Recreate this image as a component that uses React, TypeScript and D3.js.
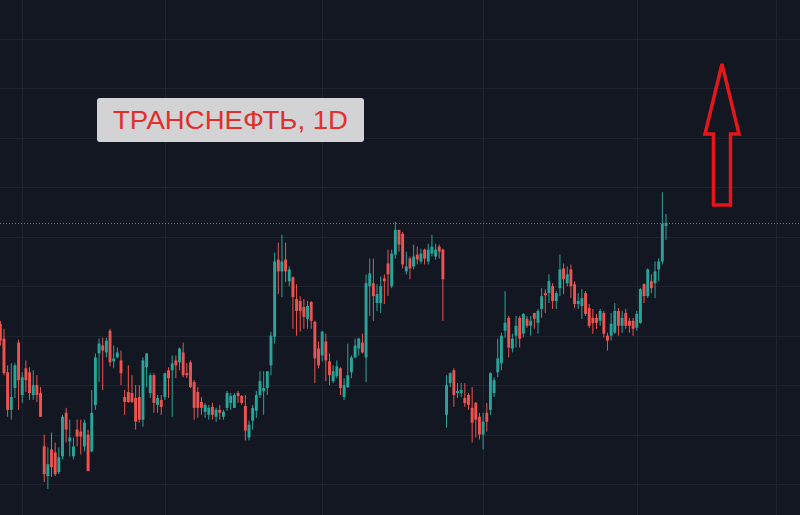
import React from 'react';
import * as d3 from 'd3';

// daily candles, [open, high, low, close]
const candles: [number, number, number, number][] = [
  [1412, 1415, 1390, 1395], [1397, 1407, 1360, 1362], [1363, 1370, 1318, 1325], [1325, 1372, 1315, 1338],
  [1347, 1372, 1337, 1370], [1393, 1396, 1325, 1355], [1340, 1363, 1332, 1358], [1367, 1375, 1343, 1355],
  [1363, 1368, 1335, 1342], [1340, 1365, 1335, 1350], [1350, 1360, 1333, 1340], [1342, 1348, 1318, 1318],
  [1288, 1300, 1252, 1260], [1258, 1287, 1245, 1270], [1285, 1302, 1257, 1267], [1282, 1292, 1258, 1260],
  [1262, 1287, 1260, 1277], [1278, 1320, 1275, 1318], [1322, 1327, 1292, 1305], [1293, 1315, 1278, 1297],
  [1278, 1297, 1275, 1288], [1305, 1315, 1288, 1298], [1303, 1315, 1280, 1298], [1288, 1315, 1283, 1312],
  [1300, 1305, 1263, 1263], [1283, 1345, 1282, 1322], [1330, 1382, 1325, 1378], [1382, 1397, 1353, 1392],
  [1390, 1398, 1345, 1385], [1383, 1398, 1378, 1395], [1405, 1407, 1369, 1373], [1374, 1390, 1367, 1377],
  [1378, 1388, 1377, 1383], [1375, 1385, 1350, 1362], [1338, 1345, 1320, 1333], [1343, 1370, 1332, 1333],
  [1342, 1360, 1332, 1333], [1337, 1350, 1305, 1313], [1338, 1350, 1312, 1315], [1315, 1378, 1308, 1375],
  [1368, 1382, 1348, 1382], [1342, 1362, 1337, 1360], [1360, 1362, 1322, 1332], [1330, 1340, 1322, 1337],
  [1335, 1340, 1320, 1328], [1338, 1362, 1335, 1362], [1365, 1368, 1337, 1357], [1365, 1380, 1318, 1372],
  [1375, 1380, 1357, 1370], [1373, 1388, 1365, 1387], [1383, 1393, 1358, 1360], [1362, 1372, 1357, 1360],
  [1373, 1375, 1347, 1348], [1353, 1355, 1315, 1327], [1343, 1348, 1317, 1327], [1333, 1338, 1320, 1327],
  [1323, 1332, 1317, 1330], [1320, 1330, 1315, 1327], [1328, 1332, 1315, 1320], [1318, 1327, 1313, 1325],
  [1325, 1330, 1315, 1322], [1318, 1325, 1315, 1323], [1327, 1344, 1324, 1342], [1332, 1342, 1325, 1339],
  [1327, 1342, 1327, 1340], [1342, 1344, 1332, 1339], [1339, 1340, 1330, 1332], [1329, 1340, 1294, 1304],
  [1297, 1314, 1294, 1310], [1314, 1330, 1305, 1327], [1324, 1344, 1317, 1340], [1340, 1364, 1337, 1354],
  [1344, 1364, 1320, 1347], [1347, 1364, 1340, 1364], [1370, 1404, 1360, 1400], [1399, 1484, 1392, 1475],
  [1477, 1494, 1442, 1465], [1465, 1502, 1439, 1475], [1477, 1494, 1454, 1465], [1455, 1470, 1450, 1467],
  [1459, 1460, 1407, 1439], [1437, 1452, 1400, 1425], [1435, 1440, 1404, 1425], [1429, 1437, 1407, 1419],
  [1417, 1435, 1407, 1430], [1434, 1435, 1407, 1415], [1414, 1415, 1352, 1377], [1387, 1394, 1367, 1370],
  [1380, 1405, 1374, 1404], [1394, 1402, 1354, 1375], [1374, 1382, 1350, 1360], [1354, 1370, 1352, 1364],
  [1359, 1375, 1357, 1369], [1367, 1368, 1340, 1347], [1338, 1357, 1335, 1350], [1348, 1392, 1347, 1360],
  [1363, 1380, 1357, 1378], [1378, 1397, 1377, 1390], [1387, 1398, 1380, 1397], [1393, 1402, 1382, 1383],
  [1378, 1462, 1353, 1453], [1450, 1478, 1420, 1463], [1453, 1478, 1415, 1440], [1433, 1452, 1425, 1442],
  [1433, 1460, 1423, 1450], [1458, 1462, 1432, 1455], [1473, 1487, 1440, 1462], [1450, 1487, 1448, 1483],
  [1482, 1515, 1478, 1507], [1507, 1507, 1485, 1492], [1503, 1505, 1468, 1472], [1465, 1485, 1462, 1470],
  [1478, 1480, 1457, 1468], [1470, 1492, 1467, 1480], [1482, 1490, 1472, 1477], [1475, 1488, 1473, 1483],
  [1487, 1488, 1472, 1478], [1475, 1493, 1472, 1487], [1483, 1502, 1480, 1490], [1480, 1493, 1477, 1487],
  [1490, 1492, 1478, 1485], [1487, 1488, 1415, 1457], [1320, 1360, 1307, 1350], [1352, 1363, 1348, 1362],
  [1365, 1367, 1328, 1340], [1342, 1352, 1337, 1344], [1342, 1352, 1338, 1345], [1337, 1352, 1328, 1332],
  [1340, 1342, 1325, 1330], [1327, 1348, 1292, 1312], [1332, 1333, 1297, 1315], [1318, 1322, 1295, 1300],
  [1300, 1322, 1285, 1313], [1322, 1332, 1303, 1313], [1325, 1363, 1320, 1362], [1342, 1358, 1338, 1355],
  [1363, 1397, 1358, 1377], [1372, 1403, 1365, 1400], [1405, 1445, 1398, 1413], [1418, 1420, 1378, 1388],
  [1387, 1402, 1383, 1397], [1400, 1420, 1388, 1410], [1418, 1420, 1388, 1397], [1402, 1423, 1398, 1422],
  [1417, 1420, 1408, 1410], [1410, 1420, 1400, 1415], [1423, 1423, 1407, 1417], [1413, 1427, 1402, 1425],
  [1427, 1448, 1418, 1440], [1443, 1447, 1423, 1441], [1443, 1462, 1433, 1455], [1450, 1453, 1427, 1435],
  [1435, 1445, 1427, 1443], [1448, 1482, 1440, 1467], [1468, 1473, 1442, 1457], [1453, 1470, 1450, 1462],
  [1467, 1472, 1438, 1450], [1452, 1455, 1428, 1432], [1432, 1443, 1427, 1435], [1430, 1447, 1417, 1438],
  [1443, 1445, 1420, 1422], [1428, 1432, 1408, 1410], [1418, 1427, 1402, 1413], [1418, 1422, 1407, 1413],
  [1415, 1427, 1410, 1425], [1423, 1425, 1398, 1402], [1400, 1403, 1385, 1395], [1400, 1423, 1395, 1412],
  [1403, 1433, 1402, 1425], [1425, 1428, 1400, 1410], [1410, 1425, 1403, 1418], [1423, 1427, 1407, 1410],
  [1415, 1418, 1403, 1410], [1415, 1418, 1400, 1407], [1408, 1425, 1405, 1422], [1413, 1448, 1412, 1447],
  [1452, 1453, 1433, 1440], [1440, 1468, 1438, 1467], [1455, 1462, 1443, 1448], [1453, 1475, 1438, 1465],
  [1467, 1478, 1455, 1475], [1475, 1545, 1472, 1513], [1511, 1523, 1497, 1514],
];

// price grid levels and month boundaries (candle index)
const priceTicks = d3.range(1250, 1701, 50);
const monthTicks = [6, 45, 88, 132, 174, 212];

const title = 'ТРАНСНЕФТЬ, 1D';

const W = 800;
const H = 515;
const UP = '#26a69a';
const DOWN = '#ef5350';

export default function App() {
  const x = d3.scaleLinear().domain([0, candles.length - 1]).range([0.3, 666]);
  const y = d3.scaleLinear().domain([1250, 1700]).range([484, 39]);
  const bw = 2.9;
  const last = candles[candles.length - 1][3];

  return (
    <svg
      width={W}
      height={H}
      style={{ position: 'absolute', left: 0, top: 0, display: 'block' }}
      fontFamily="'Liberation Sans', Arial, sans-serif"
    >
      <rect width={W} height={H} fill="#131722" />

      {/* grid */}
      {priceTicks.map(p => (
        <line key={'h' + p} x1={0} x2={W} y1={Math.round(y(p)) + 0.5} y2={Math.round(y(p)) + 0.5}
          stroke="#1f2330" strokeWidth={1} />
      ))}
      {monthTicks.map(m => (
        <line key={'v' + m} y1={0} y2={H} x1={Math.round(x(m)) + 0.5} x2={Math.round(x(m)) + 0.5}
          stroke="#1f2330" strokeWidth={1} />
      ))}

      {/* last price line */}
      <line x1={0} x2={W} y1={Math.round(y(last)) + 0.5} y2={Math.round(y(last)) + 0.5} stroke="#3f8f8a"
        strokeWidth={1} strokeDasharray="1 2" />

      {/* candles */}
      {candles.map(([o, h, l, c], i) => {
        const col = c >= o ? UP : DOWN;
        const cx = x(i);
        const top = y(Math.max(o, c));
        const bot = y(Math.min(o, c));
        return (
          <g key={i}>
            <line x1={cx} x2={cx} y1={y(h)} y2={y(l)} stroke={col} strokeWidth={1} />
            <rect x={cx - bw / 2} y={top} width={bw} height={Math.max(1, bot - top)} fill={col} />
          </g>
        );
      })}

      {/* title badge */}
      <rect x={97} y={98} width={267} height={44} rx={3} fill="#d3d3d5" />
      <text x={230.5} y={129} textAnchor="middle" fontSize={26} fill="#e0302c" textLength={235}
        lengthAdjust="spacingAndGlyphs">{title}</text>

      {/* up arrow */}
      <path d="M722,64 L739,134 L730.5,134 L730.5,205 L713.5,205 L713.5,134 L705,134 Z"
        fill="none" stroke="#e3161c" strokeWidth={3.5} strokeLinejoin="miter" />
    </svg>
  );
}
